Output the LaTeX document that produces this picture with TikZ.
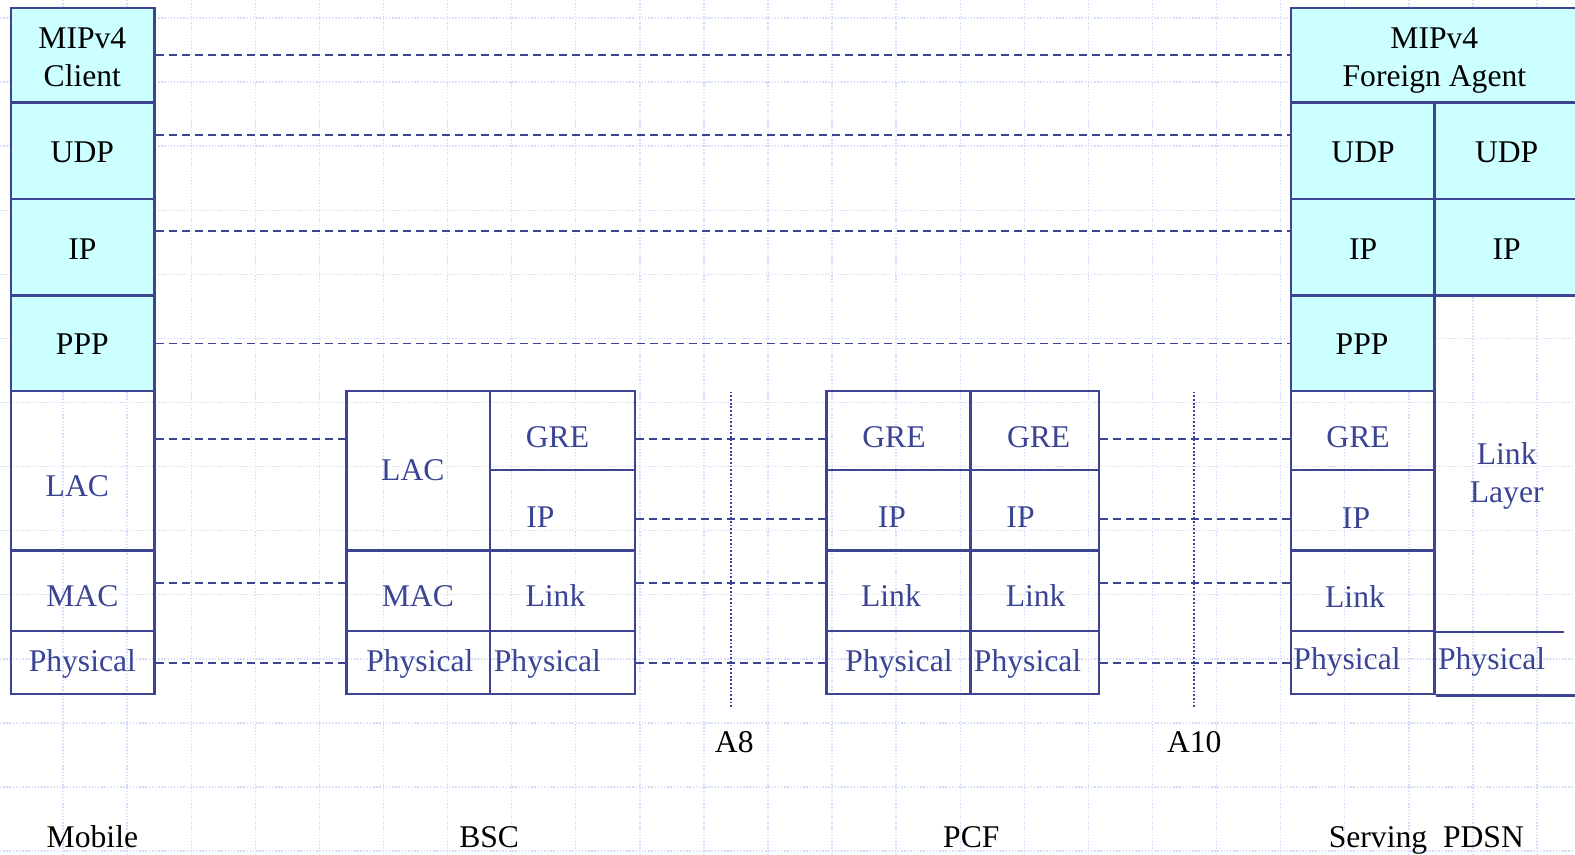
\documentclass[tikz,border=0pt]{standalone}
\usepackage{fontspec}
\setmainfont{Liberation Serif}
\usepackage{xcolor}
\usetikzlibrary{positioning, fit}

\definecolor{stackline}{HTML}{3D4592}
\definecolor{stacktext}{HTML}{3A4494}
\definecolor{stackcyan}{HTML}{CCFFFF}
\definecolor{gridblue}{HTML}{D2DCF8}

\tikzset{
  cell/.style={draw=stackline, line width=1.4pt, inner sep=0pt, fit={#1}},
  upper/.style={fill=stackcyan},
  layer/.style={anchor=base, inner sep=0pt, text=stacktext, align=center},
  uplayer/.style={layer, text=black},
  tag/.style={anchor=base, inner sep=0pt, text=black},
  link/.style={draw=stackline, line width=1.1pt, dash pattern=on 4.5pt off 2.9pt},
  iface/.style={draw=stackline, line width=1pt, dash pattern=on 1pt off 1.1pt},
  gridline/.style={draw=gridblue, line width=0.8pt, densely dotted}
}

\begin{document}
\begin{tikzpicture}[x=0.02009cm, y=-0.02009cm, font=\fontsize{18}{21.6}\selectfont]
  \clip (0,0) rectangle (1568,851);
  % background grid
  \foreach \k in {0,...,24} \draw[gridline] ({-1+63.8*\k},0) -- ({-1+63.8*\k},851);
  \foreach \k in {0,...,13} \draw[gridline] (0,{17.9+63.8*\k}) -- (1568,{17.9+63.8*\k});

  % Mobile stack:
  \node[cell={(11,8)(154,102)}, upper] (mMIP) {};
  \node[cell={(11,102)(154,198)}, upper] (mUDP) {};
  \node[cell={(11,198)(154,294)}, upper] (mIP) {};
  \node[cell={(11,294)(154,389)}, upper] (mPPP) {};
  \node[cell={(11,389)(154,548)}] (mLAC) {};
  \node[cell={(11,548)(154,628)}] (mMAC) {};
  \node[cell={(11,628)(154,691)}] (mPHY) {};
  \node[uplayer] (tmMIP) at (82,86) {MIPv4\\Client};
  \node[uplayer] (tmUDP) at (82,162) {UDP};
  \node[uplayer] (tmIP) at (82,258) {IP};
  \node[uplayer] (tmPPP) at (82,353) {PPP};
  \node[layer] (tmLAC) at (77,494) {LAC};
  \node[layer] (tmMAC) at (82,604) {MAC};
  \node[layer] (tmPHY) at (82,669) {Physical};

  % BSC stack:
  \node[cell={(345,389)(488,548)}] (bLAC) {};
  \node[cell={(488,389)(632,468)}] (bGRE) {};
  \node[cell={(488,468)(632,548)}] (bIP) {};
  \node[cell={(345,548)(488,628)}] (bMAC) {};
  \node[cell={(488,548)(632,628)}] (bLNK) {};
  \node[cell={(345,628)(488,691)}] (bPHYa) {};
  \node[cell={(488,628)(632,691)}] (bPHYb) {};
  \node[layer] (tbLAC) at (411,478) {LAC};
  \node[layer] (tbGRE) at (555,446) {GRE};
  \node[layer] (tbIP) at (538,525) {IP};
  \node[layer] (tbMAC) at (416,604) {MAC};
  \node[layer] (tbLNK) at (553,604) {Link};
  \node[layer] (tbPHYa) at (418,669) {Physical};
  \node[layer] (tbPHYb) at (545,669) {Physical};

  % PCF stack:
  \node[cell={(823,389)(966,468)}] (pGREa) {};
  \node[cell={(966,389)(1094,468)}] (pGREb) {};
  \node[cell={(823,468)(966,548)}] (pIPa) {};
  \node[cell={(966,468)(1094,548)}] (pIPb) {};
  \node[cell={(823,548)(966,628)}] (pLNKa) {};
  \node[cell={(966,548)(1094,628)}] (pLNKb) {};
  \node[cell={(823,628)(966,691)}] (pPHYa) {};
  \node[cell={(966,628)(1094,691)}] (pPHYb) {};
  \node[layer] (tpGREa) at (890,446) {GRE};
  \node[layer] (tpGREb) at (1034,446) {GRE};
  \node[layer] (tpIPa) at (888,525) {IP};
  \node[layer] (tpIPb) at (1016,525) {IP};
  \node[layer] (tpLNKa) at (887,604) {Link};
  \node[layer] (tpLNKb) at (1031,604) {Link};
  \node[layer] (tpPHYa) at (895,669) {Physical};
  \node[layer] (tpPHYb) at (1023,669) {Physical};

  % Serving PDSN stack:
  \node[cell={(1285,8)(1610,102)}, upper] (sMIP) {};
  \node[cell={(1285,102)(1428,198)}, upper] (sUDPa) {};
  \node[cell={(1428,102)(1610,198)}, upper] (sUDPb) {};
  \node[cell={(1285,198)(1428,294)}, upper] (sIPa) {};
  \node[cell={(1428,198)(1610,294)}, upper] (sIPb) {};
  \node[cell={(1285,294)(1428,389)}, upper] (sPPP) {};
  \node[cell={(1285,389)(1428,468)}] (sGRE) {};
  \node[cell={(1285,468)(1428,548)}] (sIP) {};
  \node[cell={(1285,548)(1428,628)}] (sLNK) {};
  \node[cell={(1285,628)(1428,691)}] (sPHYa) {};
  \draw[stackline, line width=1.4pt] (sLNK.south east) -- ++(128,0);
  \draw[stackline, line width=1.4pt] (sPHYa.south east) -- ++(200,0);
  \node[uplayer] (tsMIP) at (1428,86) {MIPv4\\Foreign Agent};
  \node[uplayer] (tsUDPa) at (1357,162) {UDP};
  \node[uplayer] (tsUDPb) at (1500,162) {UDP};
  \node[uplayer] (tsIPa) at (1357,258) {IP};
  \node[uplayer] (tsIPb) at (1500,258) {IP};
  \node[uplayer] (tsPPP) at (1356,353) {PPP};
  \node[layer] (tsGRE) at (1352,446) {GRE};
  \node[layer] (tsIP) at (1350,526) {IP};
  \node[layer] (tsLNK) at (1349,605) {Link};
  \node[layer] (tsPHYa) at (1341,667) {Physical};
  \node[layer] (tsLL) at (1500,500) {Link\\Layer};
  \node[layer] (tsPHYb) at (1485,667) {Physical};

  % peer links
  \foreach \lvl/\y in {lMIP/55, lUDP/134, lIP/230, lPPP/342, lGRE/437, lTIP/517, lLNK/580, lPHY/660}
    \coordinate (\lvl) at (0,\y);
  \draw[link] (mMIP.east |- lMIP) -- (sMIP.west |- lMIP);
  \draw[link] (mUDP.east |- lUDP) -- (sUDPa.west |- lUDP);
  \draw[link] (mIP.east |- lIP) -- (sIPa.west |- lIP);
  \draw[link] (mPPP.east |- lPPP) -- (sPPP.west |- lPPP);
  \draw[link] (mLAC.east |- lGRE) -- (bLAC.west |- lGRE);
  \draw[link] (bGRE.east |- lGRE) -- (pGREa.west |- lGRE);
  \draw[link] (pGREb.east |- lGRE) -- (sGRE.west |- lGRE);
  \draw[link] (bIP.east |- lTIP) -- (pIPa.west |- lTIP);
  \draw[link] (pIPb.east |- lTIP) -- (sIP.west |- lTIP);
  \draw[link] (mMAC.east |- lLNK) -- (bMAC.west |- lLNK);
  \draw[link] (bLNK.east |- lLNK) -- (pLNKa.west |- lLNK);
  \draw[link] (pLNKb.east |- lLNK) -- (sLNK.west |- lLNK);
  \draw[link] (mPHY.east |- lPHY) -- (bPHYa.west |- lPHY);
  \draw[link] (bPHYb.east |- lPHY) -- (pPHYa.west |- lPHY);
  \draw[link] (pPHYb.east |- lPHY) -- (sPHYa.west |- lPHY);

  % A8 and A10 interfaces
  \coordinate (a8top) at (728,390);
  \coordinate (a8bot) at (728,705);
  \coordinate (a10top) at (1189,390);
  \coordinate (a10bot) at (1189,705);
  \draw[iface] (a8top) -- (a8bot);
  \draw[iface] (a10top) -- (a10bot);
  \node[tag] (tA8) at (731,749) {A8};
  \node[tag] (tA10) at (1189,749) {A10};

  % network elements
  \node[tag] (tMobile) at (92,844) {Mobile};
  \node[tag] (tBSC) at (487,844) {BSC};
  \node[tag] (tPCF) at (967,844) {PCF};
  \node[tag] (tPDSN) at (1420,844) {Serving\ \ PDSN};
\end{tikzpicture}
\end{document}
